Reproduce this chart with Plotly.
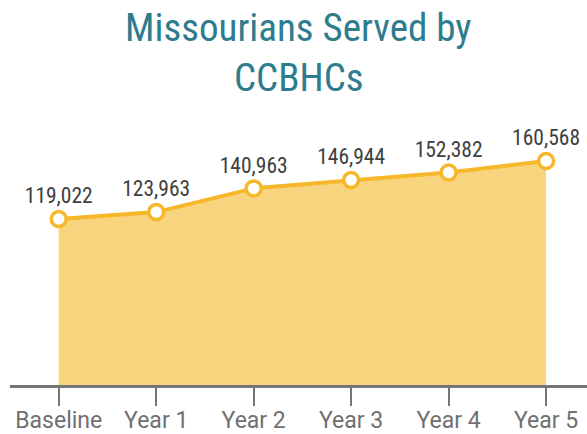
import plotly.graph_objects as go

categories = ["Baseline", "Year 1", "Year 2", "Year 3", "Year 4", "Year 5"]
values = [119022, 123963, 140963, 146944, 152382, 160568]
labels = [f"{v:,}" for v in values]
title_lines = ["Missourians Served by", "CCBHCs"]

COND = "Roboto Condensed, DejaVu Sans Condensed, Roboto, sans-serif"
REG = "Roboto, sans-serif"

T, B = 120, 49
PH = 434 - T - B

fig = go.Figure()
fig.add_trace(go.Scatter(
    x=list(range(len(categories))), y=values,
    mode="lines+markers+text",
    text=labels, textposition="top center",
    textfont=dict(family=COND, size=21.5, color="#404040"),
    line=dict(color="#F6B82A", width=4),
    fill="tozeroy", fillcolor="#F8D47E",
    marker=dict(size=15, color="white", line=dict(color="#F6B82A", width=3.5)),
    cliponaxis=False, hoverinfo="skip",
))

for line, ypix in zip(title_lines, [28, 78]):
    fig.add_annotation(
        text=line, xref="paper", yref="paper",
        x=0.5, xanchor="center", y=(434 - B - ypix) / PH, yanchor="middle",
        showarrow=False, align="center",
        font=dict(family=COND, size=39, color="#2E7C8E"),
    )

fig.update_layout(
    width=587, height=434,
    margin=dict(l=10, r=0, t=T, b=B, autoexpand=False),
    paper_bgcolor="white", plot_bgcolor="white",
    showlegend=False,
    xaxis=dict(
        range=[-0.5, 5.42], tickmode="array",
        tickvals=list(range(len(categories))), ticktext=categories,
        showgrid=False, zeroline=False, automargin=False,
        showline=True, linecolor="#757575", linewidth=3,
        ticks="outside", ticklen=18, tickwidth=2, tickcolor="#757575",
        tickfont=dict(family=REG, size=23, color="#707070"),
        ticklabelstandoff=-6,
    ),
    yaxis=dict(
        range=[0, 190000], visible=False, showgrid=False, zeroline=False,
    ),
)

fig.write_html("out.html")
